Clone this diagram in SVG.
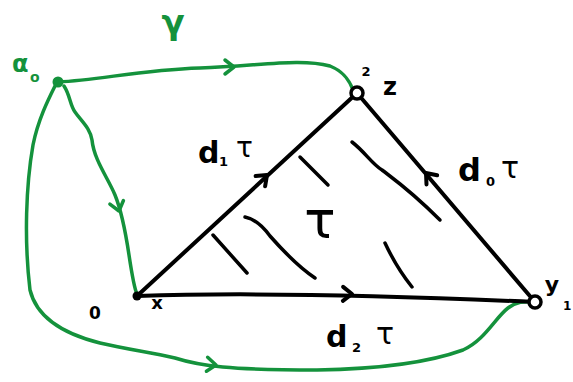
<svg xmlns="http://www.w3.org/2000/svg" width="573" height="382" viewBox="0 0 573 382">
<style>
.g{fill:none;stroke:#14923c;stroke-width:3.5;stroke-linecap:round;stroke-linejoin:round}
.k{fill:none;stroke:#000;stroke-width:4;stroke-linecap:round;stroke-linejoin:round}
.h{fill:none;stroke:#000;stroke-width:3.5;stroke-linecap:round}
.t{font-family:"DejaVu Sans","Liberation Sans",sans-serif;fill:#000}
.tg{font-family:"DejaVu Sans","Liberation Sans",sans-serif;fill:#14923c}
</style>
<defs>
<path id="chev" d="M-9,-7 L0,0 L-9,7"/>
</defs>
<rect width="573" height="382" fill="#fff"/>
<g id="connectors">
<path class="g" d="M58,82 C100,80 140,70 200,68 C260,66 300,58 330,66 C345,72 350,82 353,90"/>
<use href="#chev" class="g" transform="translate(234,67) rotate(0)"/>
<path class="g" d="M64,86 C70,95 70,105 75,112 C82,122 90,128 92,140 C94,160 108,178 115,195 C122,212 126,235 129,255 C132,275 134,288 137,294"/>
<use href="#chev" class="g" transform="translate(119,211) rotate(75)"/>
<path class="g" d="M55,86 C48,100 38,120 33,145 C26,185 24,240 30,290 C36,315 60,333 100,343 C130,350 150,352 175,358 C200,366 230,370 317,370 C380,369 430,362 463,350 C485,340 495,318 508,308 C518,300 528,302 535,302"/>
<use href="#chev" class="g" transform="translate(216,365) rotate(5)"/>
<path class="k" d="M137,296 L357,93"/>
<path class="k" d="M535,302 L357,93"/>
<path class="k" d="M137,296 C250,292 400,296 535,302"/>
<use href="#chev" class="k" transform="translate(267,175) rotate(-42.7)"/>
<use href="#chev" class="k" transform="translate(426,173) rotate(-130.4)"/>
<use href="#chev" class="k" transform="translate(352,294) rotate(1)"/>
</g>
<g id="hatch">
<path class="h" d="M300,157 L328,185"/>
<path class="h" d="M352,142 C365,152 372,164 382,170 C395,180 410,190 440,220"/>
<path class="h" d="M245,217 C255,219 262,225 270,236 C285,253 300,268 315,278"/>
<path class="h" d="M213,235 L247,273"/>
<path class="h" d="M385,243 C392,258 400,272 412,287"/>
<text class="t" x="320" y="238" font-size="52" text-anchor="middle">τ</text>
</g>
<g id="x0">
<circle cx="58" cy="82" r="5.5" fill="#14923c"/>
<text class="tg" x="12" y="72" font-size="24" font-weight="bold">α</text>
<text class="tg" x="30" y="82" font-size="14" font-weight="bold">o</text>
</g>
<g id="gamma">
<text class="tg" x="173" y="34" font-size="34" font-weight="bold" text-anchor="middle">γ</text>
</g>
<g id="vx">
<circle cx="137" cy="296" r="4.5" fill="#000"/>
<text class="t" x="95" y="319" font-size="17" font-weight="bold" text-anchor="middle">0</text>
<text class="t" x="157" y="309" font-size="18" font-weight="bold" text-anchor="middle">x</text>
</g>
<g id="vz">
<circle cx="357" cy="93" r="6" fill="#fff" stroke="#000" stroke-width="3.5"/>
<text class="t" x="366" y="76" font-size="13" font-weight="bold" text-anchor="middle">2</text>
<text class="t" x="390" y="95" font-size="24" font-weight="bold" text-anchor="middle">z</text>
</g>
<g id="vy">
<circle cx="535" cy="302" r="6" fill="#fff" stroke="#000" stroke-width="3.5"/>
<text class="t" x="552" y="292" font-size="22" font-weight="bold" text-anchor="middle">y</text>
<text class="t" x="563" y="310" font-size="12" font-weight="bold">1</text>
</g>
<g id="d1">
<text class="t" x="198" y="163" font-size="30" font-weight="bold">d</text>
<text class="t" x="219" y="166" font-size="13" font-weight="bold">1</text>
<text class="t" x="236" y="157" font-size="28">τ</text>
</g>
<g id="d0">
<text class="t" x="458" y="181" font-size="32" font-weight="bold">d</text>
<text class="t" x="486" y="186" font-size="13" font-weight="bold">0</text>
<text class="t" x="501" y="178" font-size="30">τ</text>
</g>
<g id="d2">
<text class="t" x="326" y="347" font-size="30" font-weight="bold">d</text>
<text class="t" x="352" y="352" font-size="13" font-weight="bold">2</text>
<text class="t" x="376" y="344" font-size="30">τ</text>
</g>
</svg>
